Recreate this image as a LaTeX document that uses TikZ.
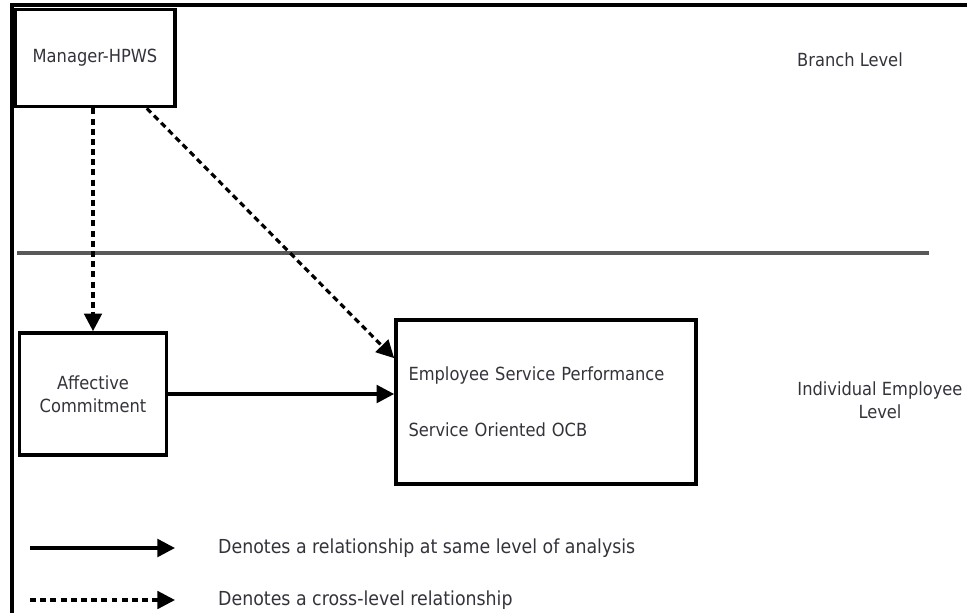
\documentclass[tikz,border=0pt]{standalone}
\usepackage{fontspec}
\setmainfont{DejaVu Sans Condensed}
\usetikzlibrary{positioning,arrows.meta}
\definecolor{txtgray}{rgb}{0.2,0.2,0.23}
\tikzstyle{arrow} = [-{Triangle[length=10pt,width=10pt]}, line width=2pt]
\tikzstyle{dasharrow} = [arrow, line width=1.8pt, dash pattern=on 3.4pt off 2.4pt]
\tikzstyle{varbox} = [draw, line width=2.1pt, text=txtgray, align=center]
\tikzstyle{lbl} = [text=txtgray, align=center]

\begin{document}
\begin{tikzpicture}[x=0.02cm, y=-0.02cm, font=\fontsize{10.3}{13}\selectfont]
    \useasboundingbox (0,0) rectangle (967,613);
    \draw [line width=2.2pt] (12,613) -- (12,5) -- (967,5);
    \draw [line width=2.4pt, black!65] (17,253) -- (929,253);

    \node [varbox, minimum width=3.2cm, minimum height=1.94cm] (mgr) at (95,58) {Manager-HPWS};
    \node [varbox, minimum width=2.94cm, minimum height=2.44cm] (ac) at (93,394) {Affective\\Commitment};
    \node [varbox, minimum width=6cm, minimum height=3.28cm, align=left, text width=5.5cm] (esp) at (546,402)
        {Employee Service Performance\\[19pt]Service Oriented OCB};

    \node [lbl] (branch) at (850,60) {Branch Level};
    \node [lbl] (indiv) at (880,400) {Individual Employee\\Level};

    \draw [dasharrow] (mgr.south -| ac.north) -- (ac.north);
    \draw [dasharrow] ([xshift=-0.6cm]mgr.south east) -- ([yshift=-0.8cm]esp.north west);
    \draw [arrow] (ac.east) -- (ac.east -| esp.west);

    % legend
    \coordinate (s1) at (30,548);
    \coordinate (e1) at (175,548);
    \coordinate (s2) at (30,600);
    \coordinate (e2) at (175,600);
    \draw [arrow] (s1) -- (e1);
    \draw [dasharrow] (s2) -- (e2);
    \node [lbl, anchor=west, font=\fontsize{11}{13}\selectfont] (same) at (212,548) {Denotes a relationship at same level of analysis};
    \node [lbl, anchor=west, font=\fontsize{11}{13}\selectfont] (cross) at (212,600) {Denotes a cross-level relationship};
\end{tikzpicture}
\end{document}
